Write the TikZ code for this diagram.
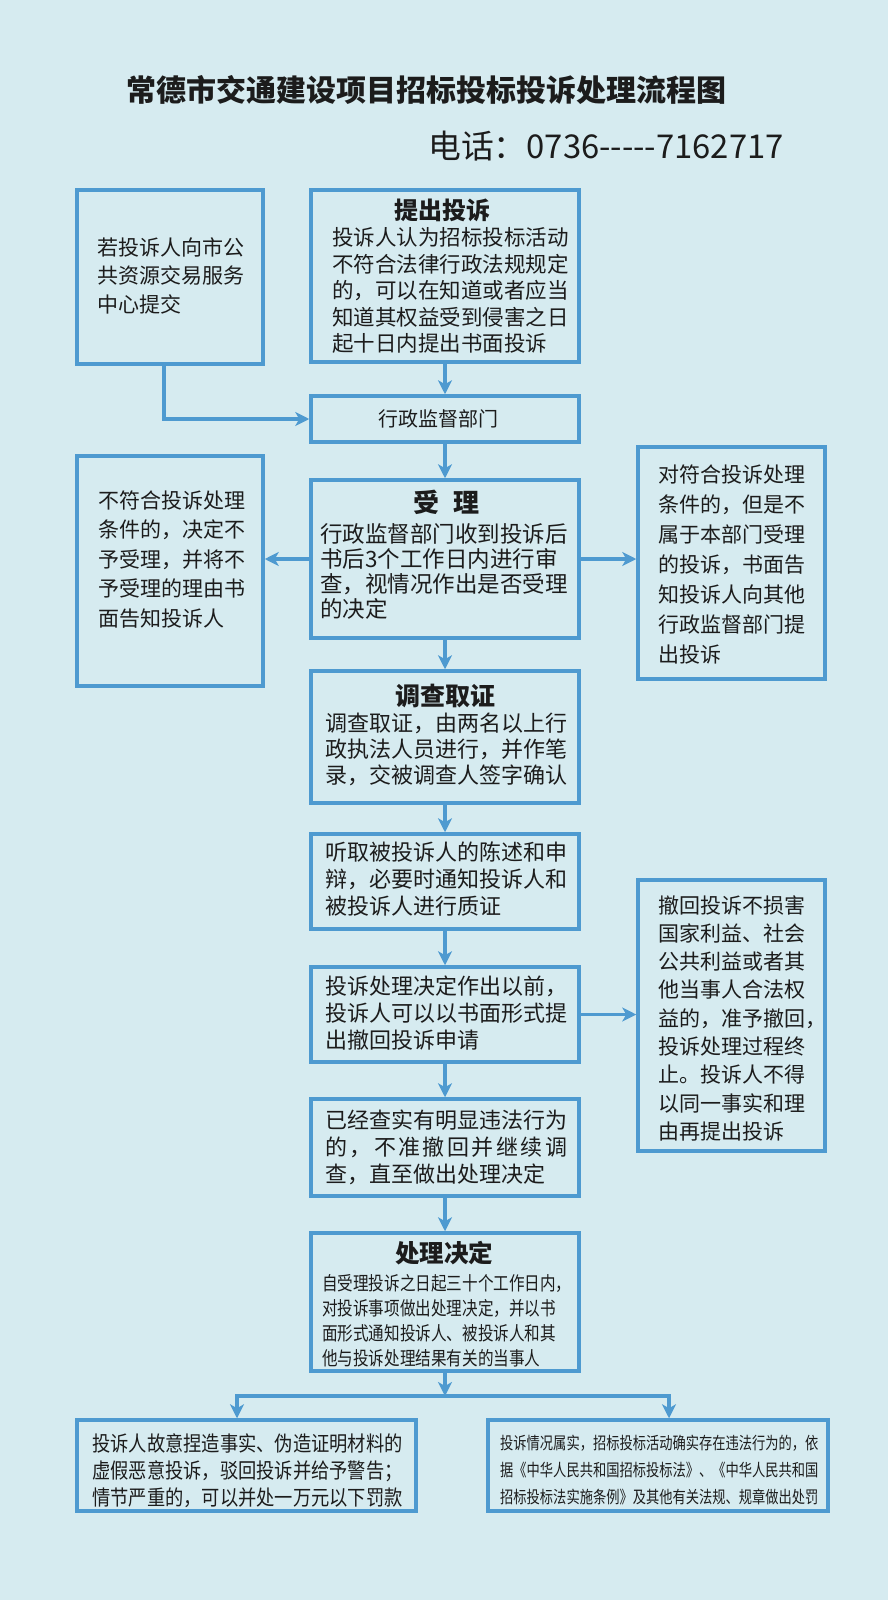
\documentclass[tikz,border=0pt]{standalone}
\usepackage{fontspec}
\setmainfont{Noto Sans CJK SC}
\newfontfamily\cjk{Noto Sans CJK SC}
\newfontfamily\cjkn[FakeStretch=0.87]{Noto Sans CJK SC}
\newfontfamily\cjkm[FakeStretch=0.82]{Noto Sans CJK SC}
\newfontfamily\cjkv[FakeStretch=0.78]{Noto Sans CJK SC}
\usetikzlibrary{arrows.meta}
\definecolor{bg}{HTML}{D6EBF0}
\definecolor{ln}{HTML}{4E9AD0}
\definecolor{tx}{HTML}{1C1C1C}
\setlength{\parindent}{0pt}
\newcommand{\boxtitle}[3]{{\noindent\cjk\bfseries\fontsize{#1}{#1}\selectfont\hspace*{#2}#3\par}}
\begin{document}
\begin{tikzpicture}[x=1pt,y=-1pt,
  box/.style={draw=ln, line width=3.5pt, fill=bg, inner sep=0pt},
  txt/.style={inner sep=0pt, anchor=north west, align=left, text=tx, text width=#1},
  txt/.default=260pt,
  arr/.style={draw=ln, line width=3.2pt, -{Stealth[length=14pt,width=14pt,inset=4pt]}},
  lin/.style={draw=ln, line width=3.2pt}]
\fill[bg] (0,0) rectangle (888,1600);
\useasboundingbox (0,0) rectangle (888,1600);

% title and phone
\node[text=tx, inner sep=0pt] (title) at (426,90)
  {\bfseries\fontsize{30}{36}\selectfont 常德市交通建设项目招标投标投诉处理流程图};
\node[text=tx, inner sep=0pt, anchor=west] (phone) at (428,146)
  {\fontsize{32.8}{38}\selectfont 电话：0736{-}{-}{-}{-}{-}7162717};

% boxes
\node[box, minimum width=268pt, minimum height=172pt] (A) at (445,276) {};
\node[box, minimum width=268pt, minimum height=46pt] (B) at (445,419) {};
\node[box, minimum width=186pt, minimum height=174pt] (L1) at (170,277) {};
\node[box, minimum width=268pt, minimum height=158pt] (C) at (445,559) {};
\node[box, minimum width=186pt, minimum height=230pt] (L2) at (170,571) {};
\node[box, minimum width=187pt, minimum height=232pt] (R1) at (731.5,563) {};
\node[box, minimum width=268pt, minimum height=132pt] (D) at (445,737) {};
\node[box, minimum width=268pt, minimum height=95pt] (E) at (445,881.5) {};
\node[box, minimum width=268pt, minimum height=95pt] (F) at (445,1014.5) {};
\node[box, minimum width=187pt, minimum height=271pt] (R2) at (731.5,1015.5) {};
\node[box, minimum width=268pt, minimum height=97pt] (G) at (445,1147.5) {};
\node[box, minimum width=268pt, minimum height=138pt] (H) at (445,1302) {};
\node[box, minimum width=339pt, minimum height=91pt] (BL) at (246.5,1465.5) {};
\node[box, minimum width=340pt, minimum height=91pt] (BR) at (658,1465.5) {};

% texts
\node[txt, font=\fontsize{21.5}{26.5}\selectfont] (tA) at (332,198.7)
  {\boxtitle{24}{62pt}{提出投诉}
   投诉人认为招标投标活动\\不符合法律行政法规规定\\的，可以在知道或者应当\\知道其权益受到侵害之日\\起十日内提出书面投诉};
\node[text=tx, inner sep=0pt, font=\fontsize{20}{24}\selectfont] (tB) at (438,419) {行政监督部门};
\node[txt=180pt, font=\fontsize{21}{28.5}\selectfont] (tL1) at (97,237)
  {若投诉人向市公\\共资源交易服务\\中心提交};
\node[txt, font=\fontsize{22.5}{25}\selectfont] (tC) at (320,489.8)
  {\boxtitle{26}{93pt}{受\hspace{14pt}理}\vspace{4.7pt}
   行政监督部门收到投诉后\\书后3个工作日内进行审\\查，视情况作出是否受理\\的决定};
\node[txt=180pt, font=\fontsize{21}{29.6}\selectfont] (tL2) at (98,490.1)
  {不符合投诉处理\\条件的，决定不\\予受理，并将不\\予受理的理由书\\面告知投诉人};
\node[txt=180pt, font=\fontsize{21}{30}\selectfont] (tR1) at (658,464.1)
  {对符合投诉处理\\条件的，但是不\\属于本部门受理\\的投诉，书面告\\知投诉人向其他\\行政监督部门提\\出投诉};
\node[txt, font=\fontsize{22}{26}\selectfont] (tD) at (325,684.3)
  {\boxtitle{25}{70pt}{调查取证}
   调查取证，由两名以上行\\政执法人员进行，并作笔\\录，交被调查人签字确认};
\node[txt, font=\fontsize{22}{27}\selectfont] (tE) at (325,841.7)
  {听取被投诉人的陈述和申\\辩，必要时通知投诉人和\\被投诉人进行质证};
\node[txt, font=\fontsize{22}{27}\selectfont] (tF) at (325,975.7)
  {投诉处理决定作出以前，\\投诉人可以以书面形式提\\出撤回投诉申请};
\node[txt=180pt, font=\fontsize{21}{28.3}\selectfont] (tR2) at (658,895.1)
  {撤回投诉不损害\\国家利益、社会\\公共利益或者其\\他当事人合法权\\益的，准予撤回，\\投诉处理过程终\\止。投诉人不得\\以同一事实和理\\由再提出投诉};
\node[txt, font=\fontsize{22}{27}\selectfont] (tG) at (325,1109.7)
  {已经查实有明显违法行为\\\leavevmode\hbox to 242pt{的\hfil ，\hfil 不\hfil 准\hfil 撤\hfil 回\hfil 并\hfil 继\hfil 续\hfil 调}\\查，直至做出处理决定};
\node[txt, font=\cjkm\fontsize{19}{25}\selectfont] (tH) at (322,1241.5)
  {\boxtitle{24.5}{73pt}{处理决定}\vspace{2.9pt}
   自受理投诉之日起三十个工作日内，\\对投诉事项做出处理决定，并以书\\面形式通知投诉人、被投诉人和其\\他与投诉处理结果有关的当事人};
\node[txt=320pt, font=\cjkn\fontsize{21}{27}\selectfont] (tBL) at (92,1433.1)
  {投诉人故意捏造事实、伪造证明材料的\\虚假恶意投诉，驳回投诉并给予警告；\\情节严重的，可以并处一万元以下罚款};
\node[txt=330pt, font=\cjkv\fontsize{17}{27}\selectfont] (tBR) at (500,1435)
  {投诉情况属实，招标投标活动确实存在违法行为的，依\\据《中华人民共和国招标投标法》、《中华人民共和国\\招标投标法实施条例》及其他有关法规、规章做出处罚};

% connectors
\draw[arr] (A.south) -- (B.north);
\draw[arr] ([xshift=-6pt]L1.south) |- (B.west);
\draw[arr] (B.south) -- (C.north);
\draw[arr] (C.west) -- (C.west -| L2.east);
\draw[arr] (C.east) -- (C.east -| R1.west);
\draw[arr] (C.south) -- (D.north);
\draw[arr] (D.south) -- (E.north);
\draw[arr] (E.south) -- (F.north);
\draw[arr] (F.east) -- (F.east -| R2.west);
\draw[arr] (F.south) -- (G.north);
\draw[arr] (G.south) -- (H.north);
\coordinate (jC) at (445,1396);
\coordinate (jL) at (237,1396);
\coordinate (jR) at (669,1396);
\draw[arr] (H.south) -- (jC);
\draw[lin] ([xshift=-1.6pt]jL) -- ([xshift=1.6pt]jR);
\draw[arr] (jL) -- (jL |- BL.north);
\draw[arr] (jR) -- (jR |- BR.north);
\end{tikzpicture}
\end{document}
